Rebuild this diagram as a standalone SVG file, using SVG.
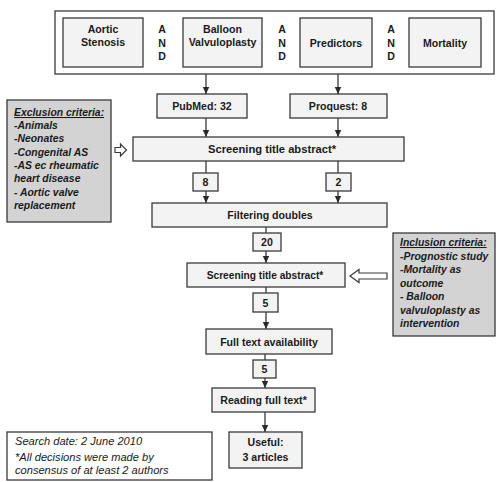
<svg xmlns="http://www.w3.org/2000/svg" width="501" height="482" viewBox="0 0 501 482">
  <style>
    .box { fill: #f3f3f3; stroke: #3a3a3a; stroke-width: 1.3; }
    .frame { fill: #ffffff; stroke: #3a3a3a; stroke-width: 1.3; }
    .crit { fill: #d3d3d3; stroke: #3a3a3a; stroke-width: 1.3; }
    .note { fill: #ffffff; stroke: #3a3a3a; stroke-width: 1.3; }
    .lbl { font-family: "Liberation Sans", Arial, sans-serif; font-weight: bold; font-size: 10.6px; fill: #1a1a1a; text-anchor: middle; }
    .it { font-family: "Liberation Sans", Arial, sans-serif; font-weight: bold; font-style: italic; font-size: 10.4px; fill: #1a1a1a; }
    .noteText { font-family: "Liberation Sans", Arial, sans-serif; font-style: italic; font-size: 11.1px; fill: #1a1a1a; }
    .line { stroke: #3a3a3a; stroke-width: 1.3; fill: none; }
    .hollow { fill: #ffffff; stroke: #3a3a3a; stroke-width: 1.2; }
  </style>
  <defs>
    <marker id="head" markerUnits="userSpaceOnUse" markerWidth="8" markerHeight="8" refX="7" refY="4" orient="auto">
      <path d="M0,0.8 L7,4 L0,7.2 Z" fill="#2a2a2a"/>
    </marker>
  </defs>

  <!-- search terms -->
  <g id="search-terms">
    <rect class="frame" x="55" y="11" width="439" height="63"/>
    <g id="term-aortic-stenosis">
      <rect class="box" x="63" y="18" width="80" height="49"/>
      <text class="lbl" x="103" y="32.5">Aortic</text>
      <text class="lbl" x="103" y="46">Stenosis</text>
    </g>
    <g id="and-1">
      <text class="lbl" x="162" y="33">A</text>
      <text class="lbl" x="162" y="46.5">N</text>
      <text class="lbl" x="162" y="60">D</text>
    </g>
    <g id="term-balloon">
      <rect class="box" x="183" y="18" width="79" height="49"/>
      <text class="lbl" x="222.5" y="32.5">Balloon</text>
      <text class="lbl" x="222.5" y="46">Valvuloplasty</text>
    </g>
    <g id="and-2">
      <text class="lbl" x="282" y="33">A</text>
      <text class="lbl" x="282" y="46.5">N</text>
      <text class="lbl" x="282" y="60">D</text>
    </g>
    <g id="term-predictors">
      <rect class="box" x="300" y="18" width="72" height="49"/>
      <text class="lbl" x="336" y="46.5">Predictors</text>
    </g>
    <g id="and-3">
      <text class="lbl" x="391" y="33">A</text>
      <text class="lbl" x="391" y="46.5">N</text>
      <text class="lbl" x="391" y="60">D</text>
    </g>
    <g id="term-mortality">
      <rect class="box" x="409" y="18" width="72" height="49"/>
      <text class="lbl" x="445" y="46.5">Mortality</text>
    </g>
  </g>

  <!-- connectors -->
  <g id="connectors">
    <line class="line" x1="206" y1="74" x2="206" y2="94" marker-end="url(#head)"/>
    <line class="line" x1="338" y1="74" x2="338" y2="94" marker-end="url(#head)"/>
    <line class="line" x1="206" y1="118" x2="206" y2="137" marker-end="url(#head)"/>
    <line class="line" x1="338" y1="118" x2="338" y2="137" marker-end="url(#head)"/>
    <line class="line" x1="206" y1="161" x2="206" y2="173"/>
    <line class="line" x1="206" y1="191" x2="206" y2="203" marker-end="url(#head)"/>
    <line class="line" x1="338" y1="161" x2="338" y2="173"/>
    <line class="line" x1="338" y1="191" x2="338" y2="203" marker-end="url(#head)"/>
    <line class="line" x1="266" y1="227" x2="266" y2="233"/>
    <line class="line" x1="266" y1="251" x2="266" y2="263" marker-end="url(#head)"/>
    <line class="line" x1="266" y1="287" x2="266" y2="293"/>
    <line class="line" x1="266" y1="312" x2="266" y2="329" marker-end="url(#head)"/>
    <line class="line" x1="265" y1="354" x2="265" y2="360"/>
    <line class="line" x1="265" y1="378" x2="265" y2="388" marker-end="url(#head)"/>
    <line class="line" x1="265" y1="412" x2="265" y2="432" marker-end="url(#head)"/>
    <path class="hollow" d="M115,147.5 L120.5,147.5 L120.5,144 L126.5,150 L120.5,156 L120.5,152.5 L115,152.5 Z"/>
    <path class="hollow" d="M350,276 L359,269.5 L359,273 L387,273 L387,279 L359,279 L359,282.5 Z"/>
  </g>

  <g id="pubmed">
    <rect class="box" x="157" y="94" width="90" height="24"/>
    <text class="lbl" x="202" y="110">PubMed: 32</text>
  </g>
  <g id="proquest">
    <rect class="box" x="290" y="94" width="97" height="24"/>
    <text class="lbl" x="338" y="110">Proquest: 8</text>
  </g>

  <g id="exclusion">
    <rect class="crit" x="7" y="100" width="104" height="122"/>
    <text class="it" x="14" y="116" text-decoration="underline">Exclusion criteria:</text>
    <text class="it" x="14" y="129">-Animals</text>
    <text class="it" x="14" y="142.3">-Neonates</text>
    <text class="it" x="14" y="155.6">-Congenital AS</text>
    <text class="it" x="14" y="168.9">-AS ec rheumatic</text>
    <text class="it" x="14" y="182.2">heart disease</text>
    <text class="it" x="14" y="195.5">- Aortic valve</text>
    <text class="it" x="14" y="208.8">replacement</text>
  </g>

  <g id="screening-1">
    <rect class="box" x="133" y="137" width="271" height="24"/>
    <text class="lbl" x="272" y="153" style="font-size:11.2px">Screening title abstract*</text>
  </g>

  <g id="count-8">
    <rect class="box" x="193" y="173" width="25" height="18"/>
    <text class="lbl" x="205.5" y="186">8</text>
  </g>
  <g id="count-2">
    <rect class="box" x="326" y="173" width="25" height="18"/>
    <text class="lbl" x="338.5" y="186">2</text>
  </g>

  <g id="filtering">
    <rect class="box" x="152" y="203" width="235" height="24"/>
    <text class="lbl" x="270" y="219">Filtering doubles</text>
  </g>

  <g id="count-20">
    <rect class="box" x="253" y="233" width="28" height="18"/>
    <text class="lbl" x="267" y="246">20</text>
  </g>

  <g id="inclusion">
    <rect class="crit" x="393" y="233" width="102" height="103"/>
    <text class="it" x="400" y="246" text-decoration="underline">Inclusion criteria:</text>
    <text class="it" x="400" y="259.5">-Prognostic study</text>
    <text class="it" x="400" y="273">-Mortality as</text>
    <text class="it" x="400" y="286.5">outcome</text>
    <text class="it" x="400" y="300">- Balloon</text>
    <text class="it" x="400" y="313.5">valvuloplasty as</text>
    <text class="it" x="400" y="327">intervention</text>
  </g>

  <g id="screening-2">
    <rect class="box" x="187" y="263" width="158" height="24"/>
    <text class="lbl" x="265" y="279" style="font-size:10.2px">Screening title abstract*</text>
  </g>

  <g id="count-5a">
    <rect class="box" x="253" y="293" width="25" height="19"/>
    <text class="lbl" x="265.5" y="306.5">5</text>
  </g>

  <g id="full-text">
    <rect class="box" x="206" y="329" width="126" height="25"/>
    <text class="lbl" x="269" y="345.5">Full text availability</text>
  </g>

  <g id="count-5b">
    <rect class="box" x="253" y="360" width="23" height="18"/>
    <text class="lbl" x="264.5" y="373">5</text>
  </g>

  <g id="reading">
    <rect class="box" x="212" y="388" width="103" height="24"/>
    <text class="lbl" x="263.5" y="404">Reading full text*</text>
  </g>

  <g id="useful">
    <rect class="box" x="229" y="432" width="73" height="36"/>
    <text class="lbl" x="265.5" y="446">Useful:</text>
    <text class="lbl" x="265.5" y="461">3 articles</text>
  </g>

  <g id="search-note">
    <rect class="note" x="7" y="432" width="205" height="48"/>
    <text class="noteText" x="15" y="445">Search date: 2 June 2010</text>
    <text class="noteText" x="15" y="460.5">*All decisions were made by</text>
    <text class="noteText" x="15" y="474">consensus of at least 2 authors</text>
  </g>
</svg>
